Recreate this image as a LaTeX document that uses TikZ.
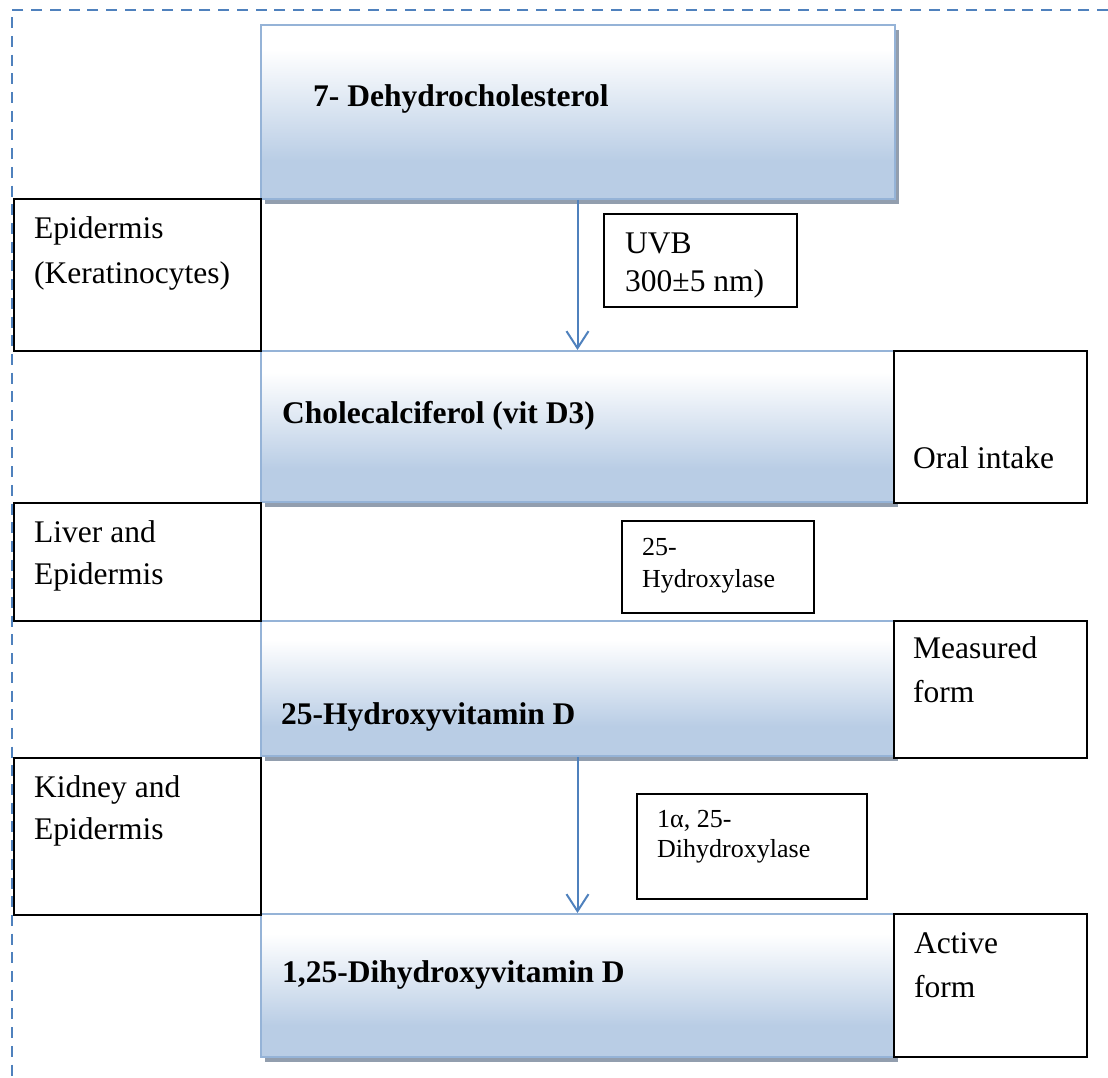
\documentclass[tikz,border=0pt]{standalone}
\usepackage{fontspec}
\setmainfont{Liberation Serif}
\usetikzlibrary{arrows.meta,shadows}
\definecolor{dashblue}{RGB}{79,129,189}
\definecolor{fillblue}{RGB}{185,205,229}
\definecolor{edgeblue}{RGB}{149,179,215}
\definecolor{shadowgray}{RGB}{146,158,174}
\pgfdeclareverticalshading{mainshade}{100bp}{color(0bp)=(fillblue); color(25bp)=(fillblue); color(36bp)=(fillblue); color(68bp)=(white); color(100bp)=(white)}
\tikzset{
  mainbox/.style={draw=edgeblue, line width=2pt, shading=mainshade, anchor=north west, inner sep=0pt,
    drop shadow={shadow xshift=3.5pt, shadow yshift=-5pt, fill=shadowgray, opacity=1}},
  sidebox/.style={draw=black, line width=1.6pt, fill=white, anchor=north west, inner sep=0pt},
  bigtxt/.style={anchor=base west, inner sep=0pt, font=\fontsize{31.5}{38}\selectfont},
  boldtxt/.style={anchor=base west, inner sep=0pt, font=\fontsize{31.5}{38}\selectfont\bfseries},
  smalltxt/.style={anchor=base west, inner sep=0pt, font=\fontsize{26}{31}\selectfont},
  flowarrow/.style={draw=dashblue, line width=2pt, -{Straight Barb[length=17pt,width=22pt]}},
  frameline/.style={draw=dashblue, line width=2.5pt, dash pattern=on 11pt off 7.7pt}
}
\begin{document}
\begin{tikzpicture}[x=1pt,y=-1pt]
\useasboundingbox (0,0) rectangle (1108,1078);
% dashed frame
\coordinate (fr1) at (1108,10);
\coordinate (fr2) at (12,10);
\coordinate (fr3) at (12,1078);
\draw[frameline] (fr1) -- (fr2) -- (fr3);

% main boxes
\node[mainbox, minimum width=634pt, minimum height=174pt] (m1) at (260,24) {};
\node[mainbox, minimum width=633pt, minimum height=151pt] (m2) at (260,350) {};
\node[mainbox, minimum width=633pt, minimum height=135pt] (m3) at (260,620) {};
\node[mainbox, minimum width=633pt, minimum height=143pt] (m4) at (260,913) {};

% side boxes
\node[sidebox, minimum width=247pt, minimum height=152pt] (s1) at (13,198) {};
\node[sidebox, minimum width=193pt, minimum height=152pt] (s2) at (893,350) {};
\node[sidebox, minimum width=247pt, minimum height=118pt] (s3) at (13,502) {};
\node[sidebox, minimum width=193pt, minimum height=137pt] (s4) at (893,620) {};
\node[sidebox, minimum width=247pt, minimum height=157pt] (s5) at (13,757) {};
\node[sidebox, minimum width=193pt, minimum height=143pt] (s6) at (893,913) {};

% enzyme boxes
\node[sidebox, minimum width=193pt, minimum height=93pt] (e1) at (603,213) {};
\node[sidebox, minimum width=192pt, minimum height=92pt] (e2) at (621,520) {};
\node[sidebox, minimum width=230pt, minimum height=105pt] (e3) at (636,793) {};

% arrows
\draw[flowarrow] (m1.south -| m2.north) -- (m2.north);
\draw[flowarrow] (m3.south -| m4.north) -- (m4.north);

% main texts
\node[boldtxt] (t1) at (313,106.7) {7- Dehydrocholesterol};
\node[boldtxt] (t2) at (282,423) {Cholecalciferol (vit D3)};
\node[boldtxt] (t3) at (281,724) {25-Hydroxyvitamin D};
\node[boldtxt] (t4) at (282,982) {1,25-Dihydroxyvitamin D};

% side texts
\node[bigtxt] (u1) at (625,253) {UVB};
\node[bigtxt] (u2) at (625,291) {300±5 nm)};
\node[bigtxt] (a1) at (34,238) {Epidermis};
\node[bigtxt] (a2) at (34,283) {(Keratinocytes)};
\node[bigtxt] (b1) at (913,468) {Oral intake};
\node[bigtxt] (c1) at (34,542) {Liver and};
\node[bigtxt] (c2) at (34,584) {Epidermis};
\node[bigtxt] (d1) at (913,658) {Measured};
\node[bigtxt] (d2) at (913,702) {form};
\node[bigtxt] (f1) at (34,797) {Kidney and};
\node[bigtxt] (f2) at (34,839) {Epidermis};
\node[bigtxt] (g1) at (914,953) {Active};
\node[bigtxt] (g2) at (914,997) {form};

% enzyme texts
\node[smalltxt] (h1) at (642,555) {25-};
\node[smalltxt] (h2) at (642,587) {Hydroxylase};
\node[smalltxt] (k1) at (657,827) {1α, 25-};
\node[smalltxt] (k2) at (657,857) {Dihydroxylase};
\end{tikzpicture}
\end{document}
